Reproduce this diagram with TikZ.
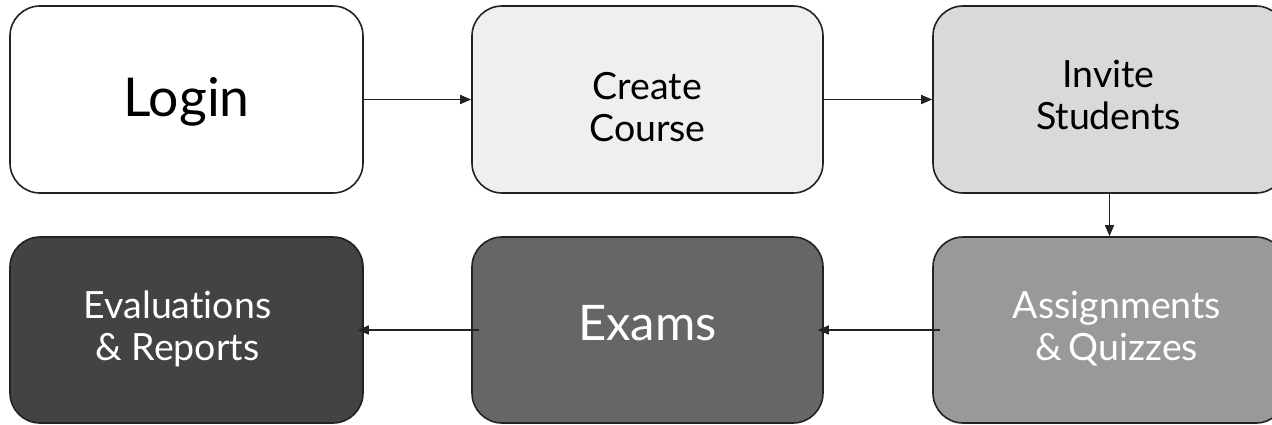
\documentclass[tikz,border=0pt]{standalone}
\usepackage{fontspec}
\setmainfont{Lato}[Ligatures={TeX,NoCommon}]
\usetikzlibrary{arrows.meta}
\definecolor{c1}{HTML}{FFFFFF}
\definecolor{c2}{HTML}{EFEFEF}
\definecolor{c3}{HTML}{D9D9D9}
\definecolor{c4}{HTML}{999999}
\definecolor{c5}{HTML}{666666}
\definecolor{c6}{HTML}{434343}
\definecolor{edge}{HTML}{222222}
% #1 = twice horizontal shift, #2 = raise of first baseline, #3 = content
\newcommand{\boxtext}[3]{\raisebox{#2}{\makebox[0pt]{\hspace*{#1}\begin{tabular}[t]{@{}c@{}}#3\end{tabular}}}}
\tikzset{
  stepbox/.style={draw=edge, line width=1.6pt, rectangle, rounded corners=30pt,
    minimum width=353pt, minimum height=187pt, inner sep=0pt,
    text height=0pt, text depth=0pt},
  smalltext/.style={font=\fontsize{37.5}{42}\selectfont},
  bigtext/.style={font=\fontsize{53.5}{60}\selectfont},
  flow/.style={draw=edge, line width=1.5pt, -{Triangle[length=11pt,width=9pt]}}
}
\begin{document}
\begin{tikzpicture}[x=1pt,y=-1pt]
\useasboundingbox (0,0) rectangle (1272,424);
\clip (0,0) rectangle (1272,424);
\node[stepbox, fill=c1, bigtext] (login) at (186.5,99.5) {\boxtext{0pt}{-16.5pt}{Login}};
\node[stepbox, fill=c2, smalltext, minimum width=351pt] (create) at (647.5,99.5) {\boxtext{0pt}{0pt}{Create\\Course}};
\node[stepbox, fill=c3, smalltext] (invite) at (1109.5,99.5) {\boxtext{-2pt}{12.5pt}{Invite\\Students}};
\node[stepbox, fill=c4, smalltext, text=white, minimum height=186pt] (assign) at (1109.5,330) {\boxtext{15pt}{12pt}{Assignments\\\&\,Quizzes}};
\node[stepbox, fill=c5, text=white, minimum width=351pt, minimum height=186pt, font=\fontsize{49}{56}\selectfont] (exams) at (647.5,330) {\boxtext{0pt}{-10pt}{Exams}};
\node[stepbox, fill=c6, smalltext, text=white, minimum height=186pt] (eval) at (186.5,330) {\boxtext{-18pt}{12pt}{Evaluations\\\& Reports}};
\draw[flow] (login.east) -- (create.west);
\draw[flow] (create.east) -- (invite.west);
\draw[flow] (invite.south) -- (assign.north);
\draw[flow, shorten <=-8pt, shorten >=-6pt] (assign.west) -- (exams.east);
\draw[flow, shorten <=-8pt, shorten >=-6pt] (exams.west) -- (eval.east);
\end{tikzpicture}
\end{document}
